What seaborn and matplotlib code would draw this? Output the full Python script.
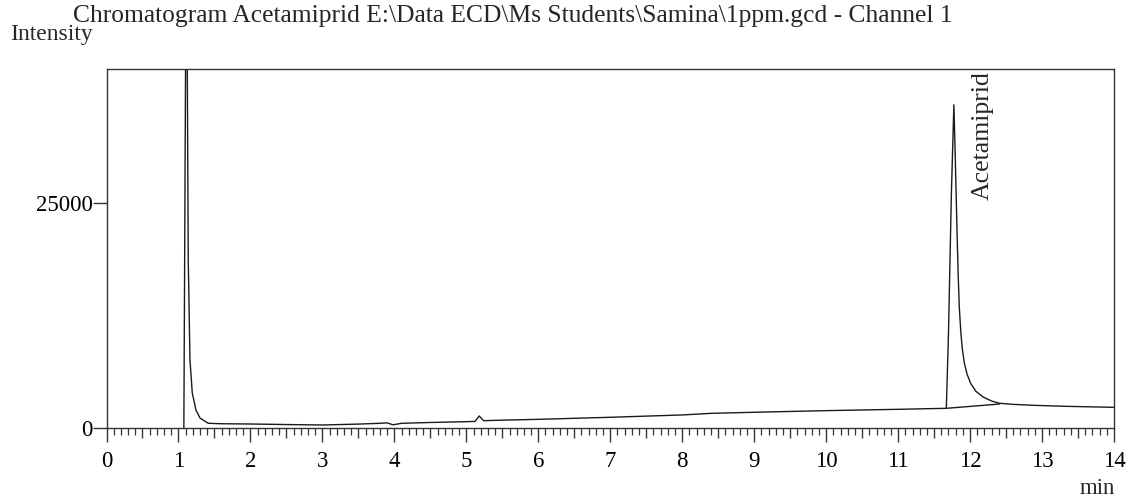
import numpy as np
import pandas as pd
import matplotlib
matplotlib.use("Agg")
import matplotlib.pyplot as plt
from matplotlib.ticker import MultipleLocator, FixedLocator, FuncFormatter
import seaborn as sns

# ---- data ----
time_min = [1.075, 1.11, 1.122, 1.136, 1.160, 1.192, 1.243, 1.299, 1.414, 1.6,
            2.0, 2.5, 3.0, 3.5, 3.8, 3.9, 3.98, 4.1, 4.5, 5.0, 5.12, 5.18, 5.24,
            5.5, 6.0, 7.0, 8.0, 8.4, 9.0, 10.0, 11.0, 11.67,
            11.70, 11.74, 11.775, 11.79, 11.805, 11.82, 11.835, 11.85, 11.87,
            11.89, 11.92, 11.96, 12.01, 12.08, 12.18, 12.30, 12.41, 12.6,
            12.87, 13.34, 14.0]
intensity = [0, 60000, 41000, 18700, 7530, 3850, 1950, 1060, 470, 420,
             390, 330, 280, 380, 470, 520, 300, 470, 560, 650, 680, 1280, 760,
             820, 910, 1140, 1400, 1580, 1700, 1880, 2030, 2140,
             10500, 26000, 36000, 31500, 26500, 21500, 17000, 13500, 10800,
             8900, 7200, 5900, 4900, 4050, 3400, 2950, 2700, 2580,
             2480, 2360, 2250]

# integration baseline under the Acetamiprid peak
base_time = [11.67, 12.41]
base_int = [2140, 2620]

peak_name = "Acetamiprid"
peak_label_pos = (12.17, 25400)

y_ticks = [0, 25000]
title = r"Chromatogram Acetamiprid E:\Data ECD\Ms Students\Samina\1ppm.gcd - Channel 1"

# ---- style ----
sns.set_style("white")
plt.rcParams["font.family"] = ["Liberation Serif", "DejaVu Serif"]

W, H = 1131, 499
fig = plt.figure(figsize=(W / 100, H / 100), dpi=100)
ax = fig.add_axes([106.5 / W, 1 - 427.5 / H, (1114 - 106.5) / W, (427.5 - 69) / H])

df = pd.DataFrame({"t": time_min, "v": intensity})
sns.lineplot(data=df, x="t", y="v", ax=ax, color="#1a1a1a", linewidth=1.0,
             sort=False, estimator=None)
dfb = pd.DataFrame({"t": base_time, "v": base_int})
sns.lineplot(data=dfb, x="t", y="v", ax=ax, color="#1a1a1a", linewidth=1.0,
             sort=False, estimator=None)

ax.set_xlim(0, 14)
ax.set_ylim(0, 40000)
ax.set_xlabel("")
ax.set_ylabel("")

for s in ax.spines.values():
    s.set_color("#333333")
    s.set_linewidth(1.0)
    s.set_visible(True)

# x ticks: majors every 0.5 (labels only on integers), minors every 0.1
half_ticks = [i * 0.5 for i in range(0, 29)]
ax.xaxis.set_major_locator(FixedLocator(half_ticks))
ax.xaxis.set_major_formatter(FuncFormatter(lambda v, p: f"{int(round(v))}" if abs(v - round(v)) < 1e-6 else ""))
ax.xaxis.set_minor_locator(MultipleLocator(0.1))
ax.yaxis.set_major_locator(FixedLocator(y_ticks))
ax.yaxis.set_major_formatter(FuncFormatter(lambda v, p: f"{int(v)}"))

ax.tick_params(axis="x", which="major", direction="out", length=10, width=1.0,
               colors="#333333", labelcolor="black", labelsize=16.5, pad=7,
               bottom=True, top=False)
ax.tick_params(axis="x", which="minor", direction="out", length=5, width=0.9,
               colors="#333333", bottom=True, top=False)
ax.tick_params(axis="y", which="major", direction="out", length=10, width=1.0,
               colors="#333333", labelcolor="black", labelsize=16.5, pad=0,
               left=True, right=False)

# shorten the half-minute major ticks
for tk, pos in zip(ax.xaxis.get_major_ticks(), half_ticks):
    if abs(pos - round(pos)) > 1e-6:
        tk.tick1line.set_markersize(7.5)

ax.text(peak_label_pos[0], peak_label_pos[1], peak_name, rotation=90,
        ha="center", va="bottom", fontsize=18.5)

fig.text(73 / W, 1 - 22 / H, title, ha="left", va="baseline", fontsize=18.4)
fig.text(10 / W, 1 - 40 / H, "Intensity", ha="left", va="baseline", fontsize=17)
fig.text(1115 / W, 1 - 494 / H, "min", ha="right", va="baseline", fontsize=16.5)

fig.savefig("out.png", dpi=100)
